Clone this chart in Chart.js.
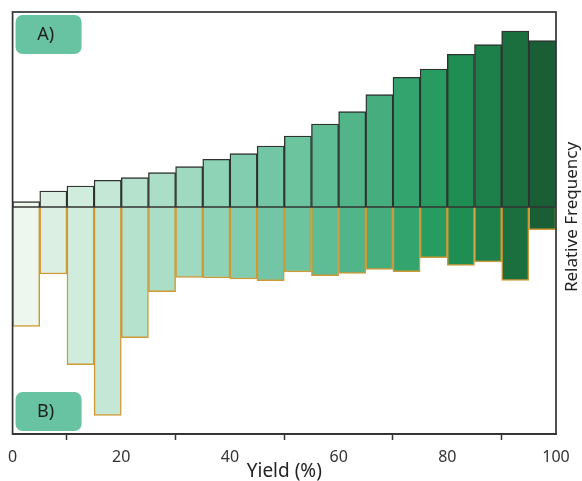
<!DOCTYPE html>
<html>
<head>
<meta charset="utf-8">
<script src="https://cdn.jsdelivr.net/npm/chart.js@4"></script>
<style>
html,body{margin:0;padding:0;background:#fff;}
#wrap{width:582px;height:481px;position:relative;}
</style>
</head>
<body>
<div id="wrap"><canvas id="c" width="582" height="481"></canvas></div>
<script>
// Bin centres (Yield %, bins of width 5)
const binCenters = [2.5,7.5,12.5,17.5,22.5,27.5,32.5,37.5,42.5,47.5,52.5,57.5,62.5,67.5,72.5,77.5,82.5,87.5,92.5,97.5];
// A) upper histogram (relative frequency, arbitrary units)
const seriesA = [0.53,1.60,2.10,2.67,2.93,3.43,4.03,4.77,5.33,6.10,7.10,8.30,9.53,11.23,12.97,13.80,15.27,16.23,17.60,16.63];
// B) lower histogram (drawn downward)
const seriesB = [11.93,6.70,15.77,20.83,13.07,8.47,7.03,7.10,7.20,7.37,6.50,6.87,6.63,6.23,6.47,5.07,5.83,5.50,7.33,2.27];
const binColors = ['#eef7ee','#dbf0e3','#cfecdc','#c5e8d6','#b5e2cd','#aadec7','#9fd9bf','#8fd3b7','#82cdaf','#72c6a6',
                   '#6cc49f','#5fbd96','#52b58a','#45ad7e','#34a46f','#289b61','#1e8e52','#1d7f49','#1b6e3e','#1a5e36'];
const xTicks = [0,20,40,60,80,100];
const panelLabels = ['A)','B)'];
const xTitle = 'Yield (%)';
const yTitle = 'Relative Frequency';
const FONT = '"Noto Sans", "Open Sans", sans-serif';

const decor = {
  id:'decor',
  afterDatasetsDraw(chart){
    const {ctx, chartArea:a, scales} = chart;
    const y0 = scales.y.getPixelForValue(0);
    ctx.save();
    ctx.strokeStyle = '#333';
    ctx.lineWidth = 1.7;
    ctx.beginPath(); ctx.moveTo(a.left, y0); ctx.lineTo(a.right, y0); ctx.stroke();
    ctx.strokeRect(a.left, a.top, a.right - a.left, a.bottom - a.top);
    // panel labels
    const boxes = [[a.left+3, a.top+3],[a.left+3, a.bottom-42]];
    boxes.forEach((b,i)=>{
      ctx.fillStyle = '#68c3a3';
      ctx.beginPath();
      ctx.roundRect(b[0], b[1], 66, 39, 7);
      ctx.fill();
      ctx.fillStyle = '#1e1e1e';
      ctx.font = '18px ' + FONT;
      ctx.textAlign = 'center'; ctx.textBaseline = 'middle';
      ctx.fillText(panelLabels[i], b[0]+30, b[1]+20);
    });
    // right title (reads bottom to top)
    ctx.translate(572, (a.top + a.bottom)/2 - 6);
    ctx.rotate(-Math.PI/2);
    ctx.fillStyle = '#222';
    ctx.font = '17px ' + FONT;
    ctx.textAlign = 'center'; ctx.textBaseline = 'middle';
    ctx.fillText(yTitle, 0, 0);
    ctx.restore();
  }
};

new Chart(document.getElementById('c'), {
  type:'bar',
  data:{
    datasets:[
      {label:'A', data: binCenters.map((x,i)=>({x, y: seriesA[i]})),
       backgroundColor: binColors, borderColor:'#2f3330', borderWidth:1.4, borderSkipped:'start',
       barPercentage:1, categoryPercentage:1},
      {label:'B', data: binCenters.map((x,i)=>({x, y: -seriesB[i]})),
       backgroundColor: binColors, borderColor:'#cf9a36', borderWidth:1.5, borderSkipped:'start',
       barPercentage:1, categoryPercentage:1}
    ]
  },
  options:{
    responsive:false,
    animation:false,
    events:[],
    layout:{padding:{left:12, top:12, right:26, bottom:0}},
    plugins:{legend:{display:false}, tooltip:{enabled:false}},
    scales:{
      x:{type:'linear', min:0, max:100, offset:false, stacked:true,
         afterBuildTicks(s){ s.ticks = xTicks.map(v=>({value:v})); },
         afterFit(s){ s.height = 47; },
         grid:{display:true, drawOnChartArea:false, drawTicks:true, tickLength:6, tickColor:'#333', tickWidth:1.5},
         border:{display:true, color:'#333', width:1.7},
         ticks:{padding:8, color:'#333', font:{size:16, family:FONT}, maxRotation:0},
         title:{display:true, text:xTitle, color:'#222', padding:{top:0,bottom:0}, font:{size:19, family:FONT, lineHeight:1.0}}
      },
      y:{display:false, stacked:true, min:-22.7, max:19.5}
    }
  },
  plugins:[decor]
});
</script>
</body>
</html>
